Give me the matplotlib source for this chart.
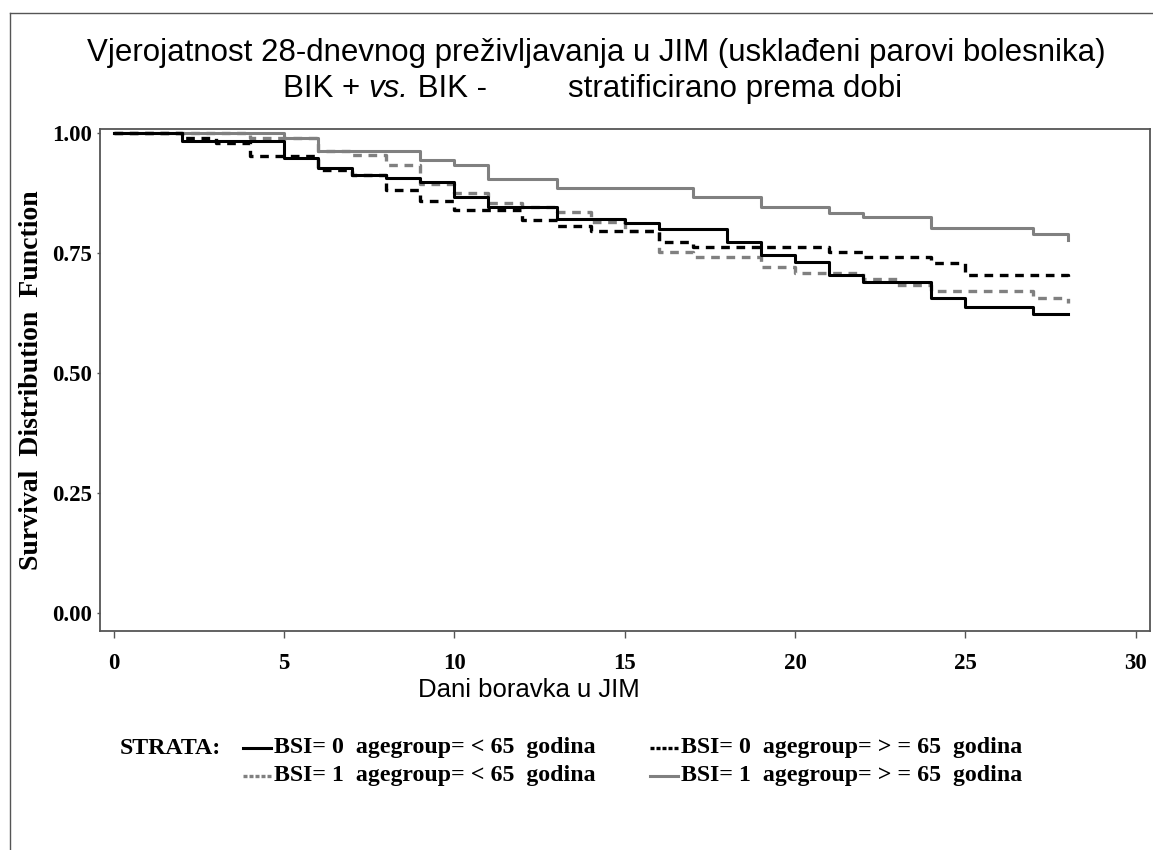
import matplotlib
matplotlib.use('Agg')
import matplotlib.pyplot as plt
from matplotlib.lines import Line2D
import numpy as np

# Kaplan-Meier steps (day, survival after that day)
t_b0_lt65 = [0, 2, 5, 6, 7, 8, 9, 10, 11, 13, 15, 16, 18, 19, 20, 21, 22, 24, 25, 27, 28]
s_b0_lt65 = [1.0, 0.983, 0.948, 0.927, 0.912, 0.906, 0.898, 0.867, 0.846, 0.821, 0.8125,
             0.80, 0.773, 0.746, 0.731, 0.704, 0.69, 0.656, 0.638, 0.623, 0.623]

t_b0_ge65 = [0, 2, 3, 4, 6, 7, 8, 9, 10, 12, 13, 14, 16, 17, 21, 22, 24, 25, 28]
s_b0_ge65 = [1.0, 0.99, 0.979, 0.951, 0.922, 0.912, 0.881, 0.858, 0.84, 0.819, 0.806,
             0.796, 0.773, 0.763, 0.752, 0.742, 0.729, 0.704, 0.70]

t_b1_lt65 = [0, 4, 6, 7, 8, 9, 10, 11, 12, 13, 14, 15, 16, 17, 19, 20, 22, 23, 24, 27, 28]
s_b1_lt65 = [1.0, 0.99, 0.963, 0.953, 0.932, 0.894, 0.875, 0.854, 0.846, 0.835, 0.815,
             0.796, 0.752, 0.742, 0.721, 0.708, 0.696, 0.683, 0.671, 0.656, 0.646]

t_b1_ge65 = [0, 5, 6, 9, 10, 11, 13, 17, 19, 21, 22, 24, 27, 28]
s_b1_ge65 = [1.0, 0.99, 0.963, 0.944, 0.933, 0.904, 0.885, 0.867, 0.846, 0.833, 0.825,
             0.802, 0.79, 0.777]

labels = ['BSI= 0  agegroup= < 65  godina',
          'BSI= 0  agegroup= > = 65  godina',
          'BSI= 1  agegroup= < 65  godina',
          'BSI= 1  agegroup= > = 65  godina']

xticks = [0, 5, 10, 15, 20, 25, 30]
yticks = [0.0, 0.25, 0.5, 0.75, 1.0]

W, H = 1153, 850
gray = '#808080'
dash = (0, (2.6, 2.0))
styles = [
    dict(color='black', ls='-', lw=2.2),
    dict(color='black', ls=dash, lw=2.4),
    dict(color=gray, ls=dash, lw=2.4),
    dict(color=gray, ls='-', lw=2.2),
]
series = [(t_b0_lt65, s_b0_lt65), (t_b0_ge65, s_b0_ge65),
          (t_b1_lt65, s_b1_lt65), (t_b1_ge65, s_b1_ge65)]

fig = plt.figure(figsize=(W / 100, H / 100), dpi=100)
ax = fig.add_axes([100 / W, 1 - 631 / H, 1050 / W, 502 / H])

# draw gray ones first so black sits on top like in the original
for i in [3, 2, 1, 0]:
    t, s = series[i]
    ax.step(t, s, where='post', **styles[i])

ax.set_xlim(-0.4, 30.42)
ax.set_ylim(-0.0375, 1.008)
ax.set_xticks(xticks)
ax.set_yticks(yticks)
ax.set_xticklabels([str(x) for x in xticks])
ax.set_yticklabels(['%.2f' % y for y in yticks])

for lab in ax.get_xticklabels() + ax.get_yticklabels():
    lab.set_fontfamily('Liberation Serif')
    lab.set_fontweight('bold')
    lab.set_fontsize(16.5)
ax.tick_params(axis='x', length=5, width=1, color='#555555', pad=11)
ax.tick_params(axis='y', length=2, width=1, color='#555555', pad=4)
for sp in ax.spines.values():
    sp.set_color('#555555')
    sp.set_linewidth(1.3)

ax.set_ylabel('Survival  Distribution  Function', fontfamily='Liberation Serif',
              fontweight='bold', fontsize=20)
ax.yaxis.set_label_coords(-56 / 1050, 0.5)

# titles
tfont = dict(fontfamily='Liberation Sans', fontsize=22.5)
fig.text(0.5 * (88 + 1105) / W, 1 - 53 / H,
         'Vjerojatnost 28-dnevnog preživljavanja u JIM (usklađeni parovi bolesnika)',
         ha='center', va='center', **tfont)
t1 = fig.text(283 / W, 1 - 89 / H, 'BIK + ', ha='left', va='center', **tfont)
t2 = ax.annotate('vs.', xy=(1, 0), xycoords=t1, ha='left', va='bottom',
                 style='italic', annotation_clip=False, **tfont)
ax.annotate(' BIK -', xy=(1, 0), xycoords=t2, ha='left', va='bottom',
            annotation_clip=False, **tfont)
fig.text(568 / W, 1 - 89 / H, 'stratificirano prema dobi', ha='left', va='center', **tfont)

fig.text(529 / W, 1 - 690 / H, 'Dani boravka u JIM', ha='center', va='center',
         fontfamily='Liberation Sans', fontsize=18.5)

# legend block
leg_font = dict(fontfamily='Liberation Serif', fontweight='bold', fontsize=17.2)
fig.text(120 / W, 1 - 748 / H, 'STRATA:', ha='left', va='center', **leg_font)
slots = [(243, 748), (650, 748), (243, 776), (650, 776)]
for i, (px, py) in enumerate(slots):
    st = styles[i]
    fig.add_artist(Line2D([px / W, (px + 28) / W], [1 - py / H, 1 - py / H],
                          transform=fig.transFigure, color=st['color'],
                          lw=st['lw'], ls=(0, (1.2, 0.6)) if st['ls'] != '-' else '-'))
    fig.text((px + 31) / W, 1 - py / H, labels[i], ha='left', va='center', **leg_font)

# outer frame (top and left edges visible in the original)
fig.add_artist(Line2D([10 / W, 1], [1 - 13 / H, 1 - 13 / H], transform=fig.transFigure,
                      color='#555555', lw=1))
fig.add_artist(Line2D([10 / W, 10 / W], [0, 1 - 13 / H], transform=fig.transFigure,
                      color='#555555', lw=1))

fig.savefig('out.png', dpi=100)
plt.close(fig)
